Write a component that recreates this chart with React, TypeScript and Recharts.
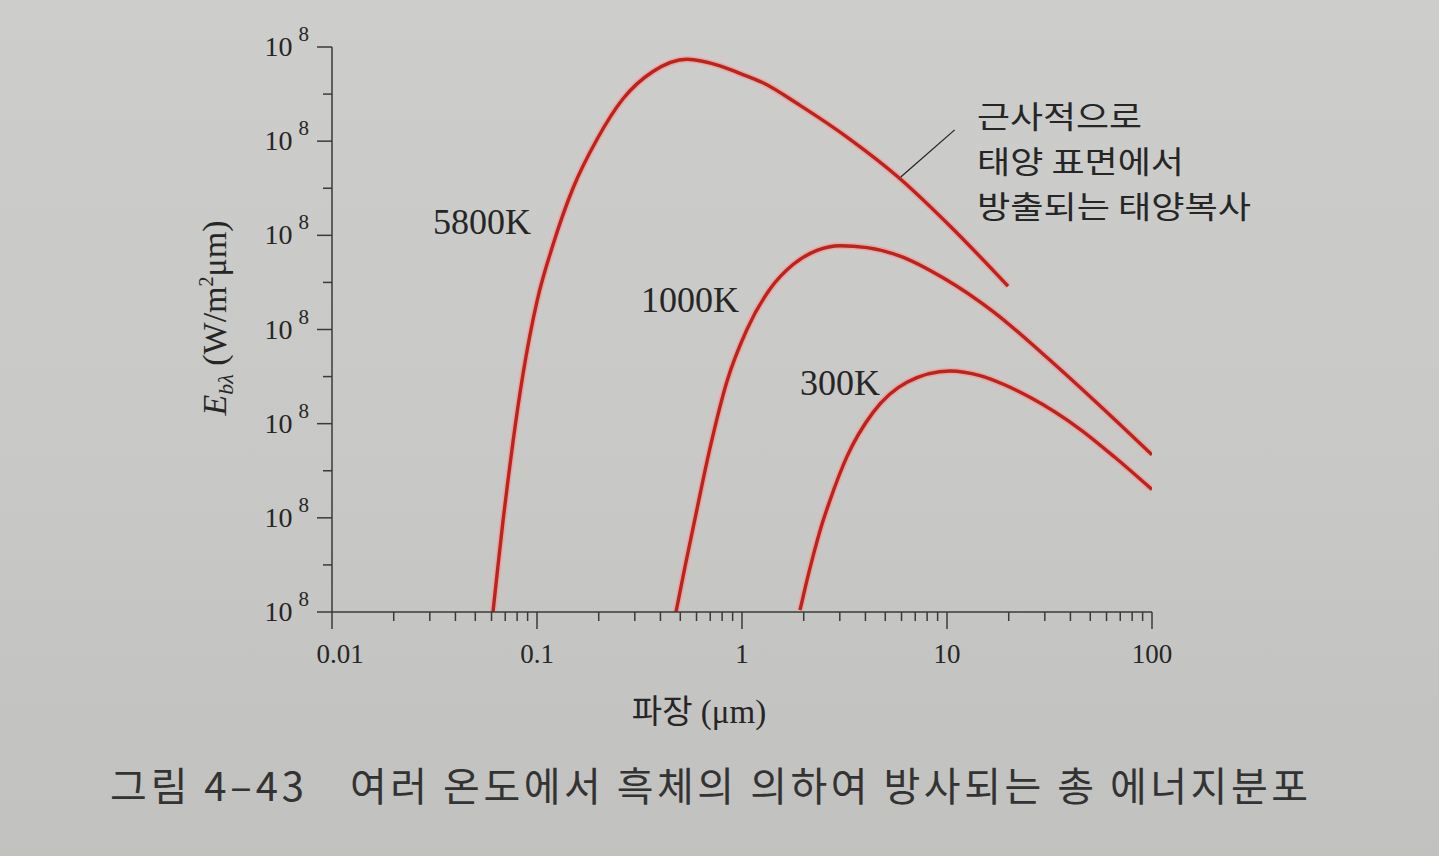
import { LineChart, Line, XAxis, YAxis, ReferenceLine } from 'recharts';

// wavelength (µm) and curve height, in axis decades above the bottom tick
const wave5800 = [0.061, 0.0645, 0.0682, 0.0722, 0.0764, 0.0855, 0.1, 0.1197, 0.1498, 0.1963, 0.2628, 0.3681, 0.539, 0.781, 0.977, 1.266, 1.919, 3.365, 5.77, 10.34, 19.85];
const level5800 = [0, 0.49, 0.96, 1.4, 1.81, 2.53, 3.3, 3.9, 4.5, 5.02, 5.45, 5.74, 5.87, 5.8, 5.72, 5.62, 5.38, 5.02, 4.62, 4.1, 3.46];

const wave1000 = [0.4764, 0.527, 0.577, 0.698, 0.845, 1.057, 1.37, 1.774, 2.323, 3.006, 4.07, 5.9, 9.56, 16.8, 29.4, 51.5, 100];
const level1000 = [0, 0.48, 0.89, 1.74, 2.45, 3.0, 3.43, 3.69, 3.84, 3.89, 3.87, 3.78, 3.55, 3.19, 2.74, 2.26, 1.67];

const wave300 = [1.919, 2.05, 2.22, 2.43, 2.69, 3.25, 4.36, 6.38, 10.34, 14.5, 19.2, 25.4, 44.6, 66.1, 100];
const level300 = [0.02, 0.29, 0.59, 0.9, 1.19, 1.65, 2.12, 2.44, 2.56, 2.51, 2.41, 2.28, 1.94, 1.64, 1.3];

const xMajorTicks = [0.01, 0.1, 1, 10, 100];
const xTickLabels = ['0.01', '0.1', '1', '10', '100'];
const yMajorTicks = [0, 1, 2, 3, 4, 5, 6];
const yTickBase = '10';
const yTickExp = '8'; // the book prints 10^8 on every tick

const seriesLabels = ['5800K', '1000K', '300K'];
const noteLines = ['근사적으로', '태양 표면에서', '방출되는 태양복사'];
const noteWidths = [165, 207, 274];
const xTitleKo = '파장';
const captionNo = '그림 4–43';
const captionText = '여러 온도에서 흑체의 의하여 방사되는 총 에너지분포';

const zip = (xs: number[], ys: number[]) => xs.map((x, i) => ({ x, v: ys[i] }));
const data5800 = zip(wave5800, level5800);
const data1000 = zip(wave1000, level1000);
const data300 = zip(wave300, level300);

const xMinorTicks: number[] = [];
[0.01, 0.1, 1, 10].forEach((d) => {
  for (let k = 2; k <= 9; k++) xMinorTicks.push(+(d * k).toPrecision(3));
});
const xTicks = [...xMajorTicks, ...xMinorTicks].sort((a, b) => a - b);
const yTicks = yMajorTicks.flatMap((t) => (t < 6 ? [t, t + 0.5] : [t]));

const INK = '#262626';
const AXIS = '#3a3a3a';
const RED = '#be221c';
const HALO = '#ec9d97';
const SERIF = '"Liberation Serif", "DejaVu Serif", serif';
const KO = '"Noto Sans CJK KR", "Noto Sans", sans-serif';

function XTick(props: any) {
  const { x, y, payload } = props;
  const idx = xMajorTicks.indexOf(payload.value);
  const major = idx >= 0;
  return (
    <g>
      <line x1={x} x2={x} y1={y} y2={y + (major ? 17 : 9)} stroke={AXIS} strokeWidth={1.5} />
      {major && (
        <text x={x + (idx === 0 ? 8 : 0)} y={y + 51} textAnchor="middle" fontFamily={SERIF} fontSize={27} fill={INK}>
          {xTickLabels[idx]}
        </text>
      )}
    </g>
  );
}

function YTick(props: any) {
  const { x, y, payload } = props;
  const major = Number.isInteger(payload.value);
  return (
    <g>
      <line x1={x - (major ? 15 : 9)} x2={x} y1={y} y2={y} stroke={AXIS} strokeWidth={1.5} />
      {major && (
        <text x={x - 23} y={y + 9} textAnchor="end" fontFamily={SERIF} fontSize={28} fill={INK}>
          {yTickBase}
          <tspan dx={6} dy={-15} fontSize={21}>{yTickExp}</tspan>
        </text>
      )}
    </g>
  );
}

export default function App() {
  const series = [data5800, data1000, data300];
  return (
    <div
      style={{
        position: 'absolute',
        left: 0,
        top: 0,
        width: 1439,
        height: 856,
        overflow: 'hidden',
        background: 'linear-gradient(180deg, #cdcdcb 0%, #c8c8c6 55%, #c1c1bf 100%)',
      }}
    >
      <LineChart width={1439} height={856} margin={{ top: 47, right: 287, left: 272, bottom: 184 }}>
        <XAxis
          dataKey="x"
          type="number"
          scale="log"
          domain={[0.01, 100]}
          ticks={xTicks}
          interval={0}
          tickSize={0}
          tickMargin={0}
          tickLine={false}
          tick={<XTick />}
          axisLine={{ stroke: AXIS, strokeWidth: 1.5 }}
          height={60}
          allowDataOverflow
        />
        <YAxis
          dataKey="v"
          type="number"
          domain={[0, 6]}
          ticks={yTicks}
          interval={0}
          tickSize={0}
          tickMargin={0}
          tickLine={false}
          tick={<YTick />}
          axisLine={{ stroke: AXIS, strokeWidth: 1.5 }}
          width={60}
          allowDataOverflow
        />
        {series.map((d, i) => (
          <Line
            key={'halo' + i}
            data={d}
            dataKey="v"
            type="monotone"
            stroke={HALO}
            strokeOpacity={0.7}
            strokeWidth={6.5}
            dot={false}
            activeDot={false}
            isAnimationActive={false}
          />
        ))}
        {series.map((d, i) => (
          <Line
            key={'line' + i}
            data={d}
            dataKey="v"
            type="monotone"
            stroke={RED}
            strokeWidth={3.4}
            dot={false}
            activeDot={false}
            isAnimationActive={false}
          />
        ))}
        <ReferenceLine
          segment={[
            { x: 5.95, y: 4.62 },
            { x: 10.9, y: 5.12 },
          ]}
          stroke={INK}
          strokeWidth={1.3}
          ifOverflow="visible"
        />
      </LineChart>

      <svg width={1439} height={856} style={{ position: 'absolute', left: 0, top: 0, pointerEvents: 'none' }}>
        <text x={433} y={234} fontFamily={SERIF} fontSize={36} fill={INK}>{seriesLabels[0]}</text>
        <text x={641} y={312} fontFamily={SERIF} fontSize={36} fill={INK}>{seriesLabels[1]}</text>
        <text x={800} y={395} fontFamily={SERIF} fontSize={36} fill={INK}>{seriesLabels[2]}</text>

        {noteLines.map((t, i) => (
          <text
            key={t}
            x={977}
            y={128 + i * 45}
            fontFamily={KO}
            fontSize={31}
            fill={INK}
            textLength={noteWidths[i]}
            lengthAdjust="spacingAndGlyphs"
          >
            {t}
          </text>
        ))}

        <text transform="translate(226,318) rotate(-90)" textAnchor="middle" fontFamily={SERIF} fontSize={34} fill={INK}>
          <tspan fontStyle="italic">E</tspan>
          <tspan fontStyle="italic" fontSize={22} dy={7}>bλ</tspan>
          <tspan dy={-7}> (W/m</tspan>
          <tspan fontSize={20} dy={-13}>2</tspan>
          <tspan dy={13}>μm)</tspan>
        </text>

        <text x={699} y={723} textAnchor="middle" fontSize={33} fill={INK}>
          <tspan fontFamily={KO}>{xTitleKo}</tspan>
          <tspan fontFamily={SERIF}> (μm)</tspan>
        </text>

        <text x={110} y={801} fontFamily={KO} fontSize={40} fill="#333" textLength={194} lengthAdjust="spacing">
          {captionNo}
        </text>
        <text x={350} y={801} fontFamily={KO} fontSize={40} fill="#333" textLength={958} lengthAdjust="spacing">
          {captionText}
        </text>
      </svg>
    </div>
  );
}
